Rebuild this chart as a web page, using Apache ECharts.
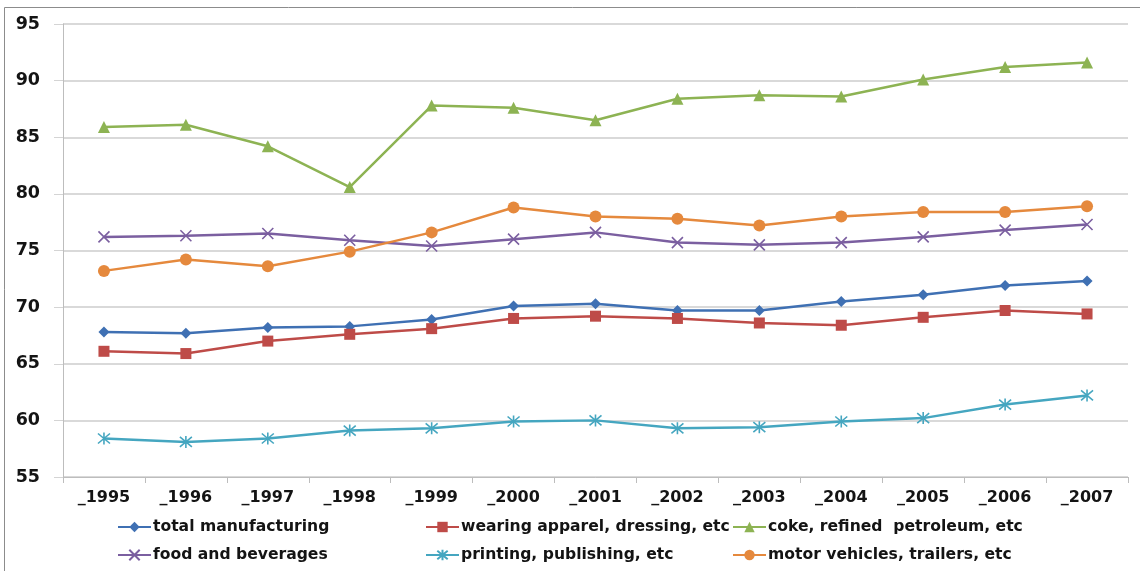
<!DOCTYPE html>
<html>
<head>
<meta charset="utf-8">
<style>
  html, body { margin: 0; padding: 0; background: #fff; }
  #chart-container { width: 1140px; height: 571px; }
</style>
<script src="https://cdn.jsdelivr.net/npm/echarts@6/dist/echarts.min.js"></script>
</head>
<body>
<div id="chart-container"></div>
<script>
var years = ['_1995', '_1996', '_1997', '_1998', '_1999', '_2000', '_2001', '_2002', '_2003', '_2004', '_2005', '_2006', '_2007'];

var totalManufacturing = [67.8, 67.7, 68.2, 68.3, 68.9, 70.1, 70.3, 69.7, 69.7, 70.5, 71.1, 71.9, 72.3];
var wearingApparel = [66.1, 65.9, 67.0, 67.6, 68.1, 69.0, 69.2, 69.0, 68.6, 68.4, 69.1, 69.7, 69.4];
var cokePetroleum = [85.9, 86.1, 84.2, 80.6, 87.8, 87.6, 86.5, 88.4, 88.7, 88.6, 90.1, 91.2, 91.6];
var foodBeverages = [76.2, 76.3, 76.5, 75.9, 75.4, 76.0, 76.6, 75.7, 75.5, 75.7, 76.2, 76.8, 77.3];
var printingPublishing = [58.4, 58.1, 58.4, 59.1, 59.3, 59.9, 60.0, 59.3, 59.4, 59.9, 60.2, 61.4, 62.2];
var motorVehicles = [73.2, 74.2, 73.6, 74.9, 76.6, 78.8, 78.0, 77.8, 77.2, 78.0, 78.4, 78.4, 78.9];

var names = [
  'total manufacturing',
  'wearing apparel, dressing, etc',
  'coke, refined  petroleum, etc',
  'food and beverages',
  'printing, publishing, etc',
  'motor vehicles, trailers, etc'
];

var dom = document.getElementById('chart-container');
var myChart = echarts.init(dom, null, { renderer: 'canvas' });

var font = 'DejaVu Sans';
var crossPath = 'path://M0,0L10,10M10,0L0,10';
var starPath = 'path://M0,0L10,10M10,0L0,10M5,-1L5,11';

function line(name, data, color, symbol, size, stroke) {
  return {
    name: name,
    type: 'line',
    data: data,
    symbol: symbol,
    symbolSize: size,
    showSymbol: true,
    lineStyle: { color: color, width: 2.5 },
    itemStyle: stroke
      ? { color: 'rgba(0,0,0,0)', borderColor: color, borderWidth: 1.6 }
      : { color: color, borderColor: color, borderWidth: 0 },
    emphasis: { disabled: true },
    z: 3
  };
}

function legendAt(name, left, top) {
  return {
    data: [name],
    left: left,
    top: top,
    itemWidth: 33,
    itemHeight: 13,
    itemGap: 0,
    padding: 0,
    selectedMode: false,
    textStyle: { fontFamily: font, fontWeight: 'bold', fontSize: 15.6, color: '#141414', padding: [0, 0, 0, -3] }
  };
}

var option = {
  animation: false,
  backgroundColor: '#fff',
  graphic: [{
    type: 'rect',
    shape: { x: 4.5, y: 7.5, width: 1200, height: 700 },
    style: { fill: null, stroke: '#8c8c8c', lineWidth: 1 },
    silent: true
  }],
  legend: [
    legendAt(names[0], 117, 519),
    legendAt(names[1], 425, 519),
    legendAt(names[2], 732, 519),
    legendAt(names[3], 117, 547),
    legendAt(names[4], 425, 547),
    legendAt(names[5], 732, 547)
  ],
  grid: { left: 63, right: 12, top: 24, bottom: 94, containLabel: false },
  xAxis: {
    type: 'category',
    data: years,
    boundaryGap: true,
    axisLine: { lineStyle: { color: '#bdbdbd', width: 1 } },
    axisTick: { show: true, length: 6, lineStyle: { color: '#bdbdbd' } },
    axisLabel: { fontFamily: font, fontWeight: 'bold', fontSize: 16, color: '#141414', margin: 13 }
  },
  yAxis: {
    type: 'value',
    min: 55,
    max: 95,
    interval: 5,
    axisLine: { show: true, lineStyle: { color: '#bdbdbd', width: 1 } },
    axisTick: { show: true, length: 9, lineStyle: { color: '#d4d4d4' } },
    splitLine: { lineStyle: { color: '#d9d9d9', width: 2 } },
    axisLabel: { fontFamily: font, fontWeight: 'bold', fontSize: 17.5, color: '#141414', margin: 23 }
  },
  series: [
    line(names[0], totalManufacturing, '#3f70b3', 'diamond', 11),
    line(names[1], wearingApparel, '#be4b48', 'rect', 11),
    line(names[2], cokePetroleum, '#8db353', 'triangle', 12),
    line(names[3], foodBeverages, '#7b5fa0', crossPath, 11, true),
    line(names[4], printingPublishing, '#45a6c0', starPath, 12, true),
    line(names[5], motorVehicles, '#e5893d', 'circle', 12)
  ]
};

myChart.setOption(option);
window.addEventListener('resize', myChart.resize);
</script>
</body>
</html>
